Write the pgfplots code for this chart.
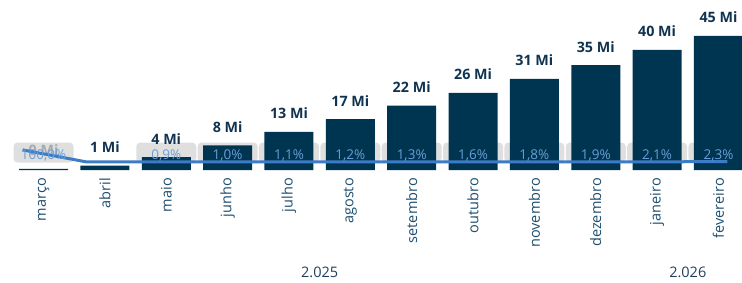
\documentclass[border=0pt]{standalone}
\usepackage{pgfplots}
\usepackage{pgfplotstable}
\pgfplotsset{compat=1.18}
\usepackage{fontspec}
\setmainfont{Open Sans}
\definecolor{barnavy}{HTML}{003551}
\definecolor{labnavy}{HTML}{0F3350}
\definecolor{monthc}{HTML}{1E4E6E}
\definecolor{yearc}{HTML}{1F3F5C}
\definecolor{linec}{HTML}{3C7BC6}
\definecolor{pctc}{HTML}{6A9ED8}
\definecolor{boxg}{HTML}{D4D4D4}

\pgfplotstableread{
x v label
0 0.4 {0 Mi}
1 1.5 {1 Mi}
2 4.3 {4 Mi}
3 8.3 {8 Mi}
4 12.8 {13 Mi}
5 17.1 {17 Mi}
6 21.6 {22 Mi}
7 25.9 {26 Mi}
8 30.6 {31 Mi}
9 35.2 {35 Mi}
10 40.3 {40 Mi}
11 45.0 {45 Mi}
}\bars

% line series (drawn on its own, slightly wider horizontal spread as in the source)
\pgfplotstableread{
x p
-0.342 100.0
0.702 0.5
1.747 0.9
2.791 1.0
3.836 1.1
4.881 1.2
5.925 1.3
6.969 1.6
8.013 1.8
9.058 1.9
10.103 2.1
11.147 2.3
}\pcts

\pgfplotstableread{
x y label
0 3.36 {100,0\%}
2 3.36 {0,9\%}
3 3.36 {1,0\%}
4 3.36 {1,1\%}
5 3.36 {1,2\%}
6 3.36 {1,3\%}
7 3.36 {1,6\%}
8 3.36 {1,8\%}
9 3.36 {1,9\%}
10 3.36 {2,1\%}
11 3.36 {2,3\%}
}\pctlabels

\pgfplotstableread{
x y
2 5.87
3 5.87
4 5.87
5 5.87
6 5.87
7 5.87
8 5.87
9 5.87
10 5.87
11 5.87
}\boxpos

\pgfplotstableread{
x y
0 5.87
}\boxfirst

\pgfplotsset{
  frame/.style={at={(19pt,112pt)}, anchor=south west,
    scale only axis, width=724pt, height=165pt,
    xmin=-0.4, xmax=11.4, clip=false},
  boxstyle/.style={draw=none, mark=none, point meta=y, nodes near coords={},
    every node near coord/.style={fill=boxg, fill opacity=0.75, rounded corners=4pt, minimum width=60pt, minimum height=20pt, anchor=center, inner sep=0pt}},
}

\begin{document}
\begin{tikzpicture}
\useasboundingbox (0,0) rectangle (742pt,282pt);
% boxes behind the bars
\begin{axis}[frame, ymin=0, ymax=55.37, hide axis]
\addplot[boxstyle] table[x=x,y=y]{\boxpos};
\end{axis}
% bars
\begin{axis}[frame, ymin=0, ymax=55.37,
  axis line style={draw=none},
  major tick length=0pt,
  ytick=\empty,
  xtick={0,...,11},
  xticklabels={março,abril,maio,junho,julho,agosto,setembro,outubro,novembro,dezembro,janeiro,fevereiro},
  xticklabel style={rotate=90, anchor=east, inner sep=0pt, font=\fontsize{14.5}{16}\selectfont, text=monthc},
  xticklabel shift=8pt,
]
\addplot[ybar, bar width=49pt, fill=barnavy, draw=none,
  point meta=explicit symbolic, nodes near coords,
  every node near coord/.append style={anchor=base, inner sep=0pt, yshift=13pt, font=\fontsize{14.3}{16}\selectfont\bfseries, text=labnavy}]
  table[x=x,y=v,meta=label]{\bars};
\node[anchor=base, inner sep=0pt, font=\fontsize{14.5}{16}\selectfont, text=yearc] at (axis cs:4.5,-36.2) {2.025};
\node[anchor=base, inner sep=0pt, font=\fontsize{14.5}{16}\selectfont, text=yearc] at (axis cs:10.5,-36.2) {2.026};
\end{axis}
% first box covers the first bar label, as in the source
\begin{axis}[frame, ymin=0, ymax=55.37, hide axis]
\addplot[boxstyle] table[x=x,y=y]{\boxfirst};
\end{axis}
% line
\begin{axis}[frame, ymin=-66, ymax=1297, hide axis]
\addplot[linec, line width=3pt, line join=round, mark=none] table[x=x,y=p]{\pcts};
\end{axis}
% percentage labels
\begin{axis}[frame, ymin=0, ymax=55.37, hide axis]
\addplot[draw=none, mark=none, point meta=explicit symbolic, nodes near coords,
  every node near coord/.style={anchor=base, inner sep=0pt, font=\fontsize{13.5}{15}\selectfont, text=pctc}]
  table[x=x,y=y,meta=label]{\pctlabels};
\end{axis}
\end{tikzpicture}
\end{document}
